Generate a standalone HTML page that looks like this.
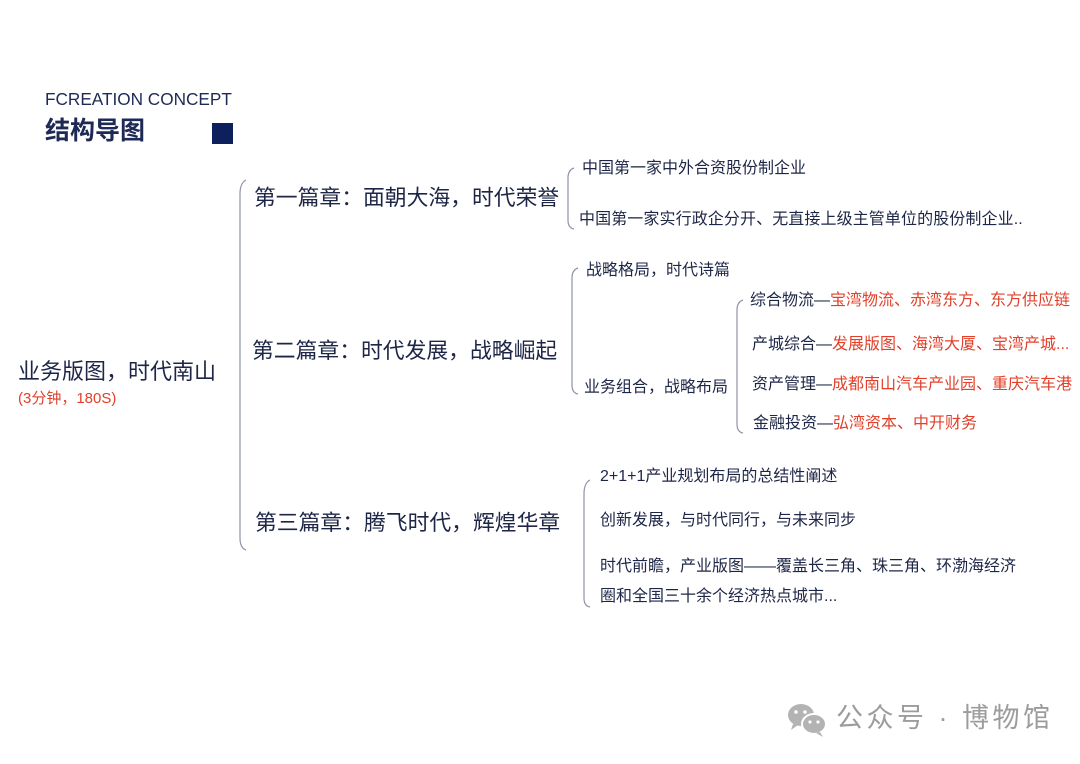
<!DOCTYPE html>
<html><head><meta charset="utf-8"><style>
html,body{margin:0;padding:0}
body{width:1080px;height:764px;position:relative;background:#fff;overflow:hidden;font-family:"Liberation Sans","Noto Sans CJK SC",sans-serif;color:#1e2647}
.t{position:absolute;white-space:nowrap;line-height:1}
.r{color:#e2402a}
.c{font-size:21.8px}
.l{font-size:16px}
</style></head><body>
<div class="t" style="left:45px;top:91px;font-size:17.2px;color:#1e2a55">FCREATION CONCEPT</div>
<div class="t" style="left:45px;top:119px;font-size:25px;font-weight:bold;color:#1e2a55">结构导图</div>
<div style="position:absolute;left:212px;top:123px;width:21px;height:21px;background:#0d1f5c"></div>

<div class="t" style="left:18px;top:361px;font-size:22px">业务版图，时代南山</div>
<div class="t r" style="left:18px;top:391px;font-size:15px">(3分钟，180S)</div>

<svg width="1080" height="764" style="position:absolute;left:0;top:0" fill="none" stroke="#8e93a8" stroke-width="1.2">
<path d="M246 180 Q240 183 240 194 L240 538 Q240 548 246 550"/>
<path d="M574 168 Q568 170 568 178 L568 220 Q568 228 574 229"/>
<path d="M578 268 Q572 270 572 278 L572 385 Q572 393 578 394"/>
<path d="M743 300 Q737 302 737 310 L737 424 Q737 432 743 433"/>
<path d="M590 480 Q584 483 584 494 L584 598 Q584 606 590 607"/>
</svg>

<div class="t c" style="left:254px;top:187px">第一篇章：面朝大海，时代荣誉</div>
<div class="t c" style="left:252px;top:340px">第二篇章：时代发展，战略崛起</div>
<div class="t c" style="left:255px;top:512px">第三篇章：腾飞时代，辉煌华章</div>

<div class="t l" style="left:582px;top:161px">中国第一家中外合资股份制企业</div>
<div class="t l" style="left:579px;top:212px;letter-spacing:0.1px">中国第一家实行政企分开、无直接上级主管单位的股份制企业..</div>

<div class="t l" style="left:586px;top:263px">战略格局，时代诗篇</div>
<div class="t l" style="left:584px;top:380px">业务组合，战略布局</div>

<div class="t l" style="left:750px;top:293px">综合物流—<span class="r">宝湾物流、赤湾东方、东方供应链</span></div>
<div class="t l" style="left:752px;top:337px">产城综合—<span class="r">发展版图、海湾大厦、宝湾产城...</span></div>
<div class="t l" style="left:752px;top:377px">资产管理—<span class="r">成都南山汽车产业园、重庆汽车港</span></div>
<div class="t l" style="left:753px;top:416px">金融投资—<span class="r">弘湾资本、中开财务</span></div>

<div class="t l" style="left:600px;top:469px">2+1+1产业规划布局的总结性阐述</div>
<div class="t l" style="left:600px;top:513px">创新发展，与时代同行，与未来同步</div>
<div class="t l" style="left:600px;top:559px">时代前瞻，产业版图——覆盖长三角、珠三角、环渤海经济</div>
<div class="t l" style="left:600px;top:589px">圈和全国三十余个经济热点城市...</div>

<svg width="44" height="36" style="position:absolute;left:786px;top:702px">
<ellipse cx="15" cy="13" rx="13" ry="11" fill="#b3b3b3"/>
<path d="M7 22 L5 28 L12 23Z" fill="#b3b3b3"/>
<ellipse cx="28" cy="22" rx="12" ry="10" fill="#b3b3b3" stroke="#fff" stroke-width="2"/>
<path d="M34 30 L37 35 L30 31Z" fill="#b3b3b3"/>
<circle cx="10" cy="10" r="1.8" fill="#fff"/><circle cx="19" cy="10" r="1.8" fill="#fff"/>
<circle cx="24" cy="20" r="1.6" fill="#fff"/><circle cx="32" cy="20" r="1.6" fill="#fff"/>
</svg>
<div class="t" style="left:836px;top:705px;font-size:27px;letter-spacing:3.5px;color:#9c9c9c">公众号 · 博物馆</div>
</body></html>
